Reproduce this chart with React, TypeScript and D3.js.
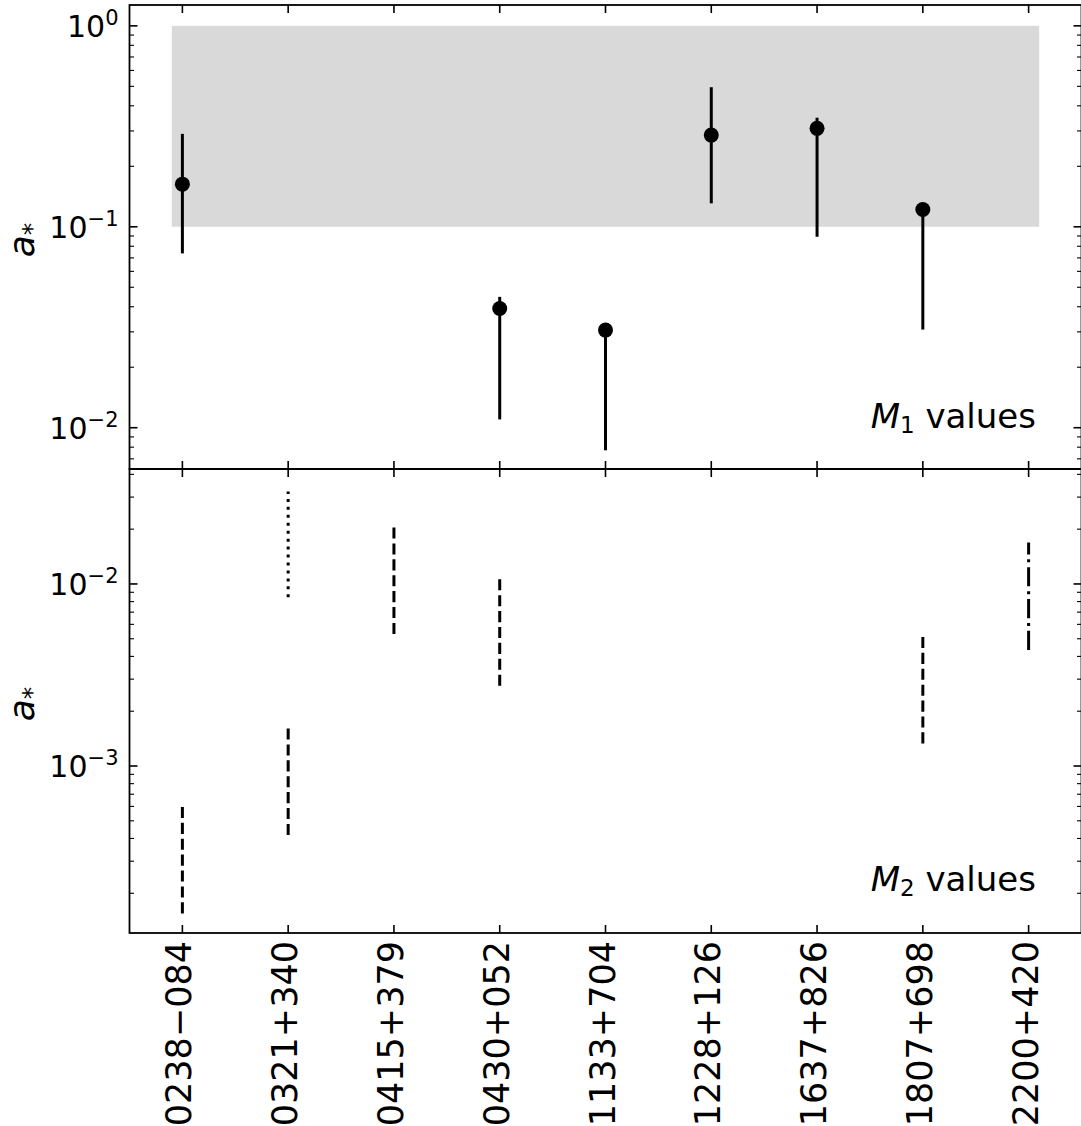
import * as d3 from "d3";

// source names (x categories)
const sources = [
  "0238\u2212084",
  "0321+340",
  "0415+379",
  "0430+052",
  "1133+704",
  "1228+126",
  "1637+826",
  "1807+698",
  "2200+420",
];

// M1 values: index into sources, best value, upper and lower limits
const m1Source = [0, 3, 4, 5, 6, 7];
const m1Value = [0.163, 0.0392, 0.0306, 0.286, 0.309, 0.122];
const m1Upper = [0.29, 0.0448, 0.0306, 0.495, 0.349, 0.122];
const m1Lower = [0.0737, 0.011, 0.00772, 0.1308, 0.0892, 0.0308];

// shaded region of the upper panel
const bandX = [-0.1, 8.1];
const bandY = [0.1, 1];

// M2 values: ranges only
const m2Source = [0, 1, 1, 2, 3, 7, 8];
const m2Lower = [1.55e-4, 8.45e-3, 4.18e-4, 5.31e-3, 2.76e-3, 1.33e-3, 4.34e-3];
const m2Upper = [6.05e-4, 0.0322, 1.64e-3, 0.0206, 0.0108, 5.25e-3, 0.0169];
const m2Line = ["dashed", "dotted", "dashed", "dashed", "dashed", "dashed", "dashdot"];

// axis limits
const topLim = [0.00623, 1.27];
const bottomLim = [1.21e-4, 0.0428];

const W = 1081;
const H = 1126;
const left = 129.5;
const right = 1081.5;
const top1 = 5;
const mid = 469;
const bottom2 = 933;
const LW = 3;

const dashes: Record<string, string> = {
  dashed: "11.1,4.8",
  dotted: "3,4.95",
  dashdot: "19.2,4.8,3,4.8",
};

const x = d3.scaleLinear().domain([-0.5, sources.length - 0.5]).range([left, right]);

function supLabel(v: number) {
  const e = Math.round(Math.log10(v));
  return e < 0 ? "\u2212" + Math.abs(e) : String(e);
}

function LogAxes({ y, y0, y1 }: { y: d3.ScaleLogarithmic<number, number>; y0: number; y1: number }) {
  const ticks = y.ticks();
  const isMajor = (t: number) => Math.abs(Math.log10(t) - Math.round(Math.log10(t))) < 1e-9;
  return (
    <g>
      {ticks.map((t, i) => {
        const maj = isMajor(t);
        const len = maj ? 8 : 4.5;
        const sw = maj ? 1.6 : 1.1;
        const yy = y(t);
        return (
          <g key={i}>
            <line x1={left} x2={left + len} y1={yy} y2={yy} stroke="#000" strokeWidth={sw} />
            <line x1={right} x2={right - len} y1={yy} y2={yy} stroke="#000" strokeWidth={sw} />
            {maj && (
              <text x={left - 11} y={yy} dy="0.36em" textAnchor="end" fontSize={30}>
                10
                <tspan fontSize={21} dy={-12}>
                  {supLabel(t)}
                </tspan>
              </text>
            )}
          </g>
        );
      })}
      {sources.map((s, i) => (
        <g key={s}>
          <line x1={x(i)} x2={x(i)} y1={y0} y2={y0 + 8} stroke="#000" strokeWidth={1.6} />
          <line x1={x(i)} x2={x(i)} y1={y1} y2={y1 - 8} stroke="#000" strokeWidth={1.6} />
        </g>
      ))}
      <rect x={left} y={y0} width={right - left} height={y1 - y0} fill="none" stroke="#000" strokeWidth={1.8} />
      <text transform={`translate(34,${(y0 + y1) / 2 + 3}) rotate(-90)`} textAnchor="middle" fontSize={36}>
        <tspan fontStyle="italic">a</tspan>
        <tspan fontSize={25} dy={6}>*</tspan>
      </text>
    </g>
  );
}

export default function App() {
  const yTop = d3.scaleLog().domain(topLim).range([mid, top1]);
  const yBot = d3.scaleLog().domain(bottomLim).range([bottom2, mid]);
  const seg = d3
    .line<number>()
    .x(() => 0)
    .y((d) => d);

  return (
    <svg
      width={W}
      height={H}
      style={{ position: "absolute", left: 0, top: 0, background: "#fff" }}
      fontFamily="DejaVu Sans"
    >
      {/* upper panel */}
      <rect
        x={x(bandX[0])}
        y={yTop(bandY[1])}
        width={x(bandX[1]) - x(bandX[0])}
        height={yTop(bandY[0]) - yTop(bandY[1])}
        fill="#d9d9d9"
      />
      {m1Source.map((s, i) => (
        <g key={i}>
          <line
            x1={x(s)}
            x2={x(s)}
            y1={yTop(m1Lower[i])}
            y2={yTop(m1Upper[i])}
            stroke="#000"
            strokeWidth={LW}
          />
          <circle cx={x(s)} cy={yTop(m1Value[i])} r={7.5} fill="#000" />
        </g>
      ))}
      <text x={1036} y={428} textAnchor="end" fontSize={34}>
        <tspan fontStyle="italic">M</tspan>
        <tspan fontSize={23} dy={5}>1</tspan>
        <tspan dy={-5}> values</tspan>
      </text>
      <LogAxes y={yTop} y0={top1} y1={mid} />

      {/* lower panel */}
      {m2Source.map((s, i) => (
        <path
          key={i}
          transform={`translate(${x(s)},0)`}
          d={seg([yBot(m2Lower[i]), yBot(m2Upper[i])]) || ""}
          fill="none"
          stroke="#000"
          strokeWidth={LW}
          strokeDasharray={dashes[m2Line[i]]}
        />
      ))}
      <text x={1036} y={891} textAnchor="end" fontSize={34}>
        <tspan fontStyle="italic">M</tspan>
        <tspan fontSize={23} dy={5}>2</tspan>
        <tspan dy={-5}> values</tspan>
      </text>
      <LogAxes y={yBot} y0={mid} y1={bottom2} />

      {/* category labels */}
      {sources.map((s, i) => (
        <text
          key={s}
          transform={`translate(${x(i)},941) rotate(-90)`}
          dy={9}
          textAnchor="end"
          fontSize={35}
        >
          {s}
        </text>
      ))}
    </svg>
  );
}
